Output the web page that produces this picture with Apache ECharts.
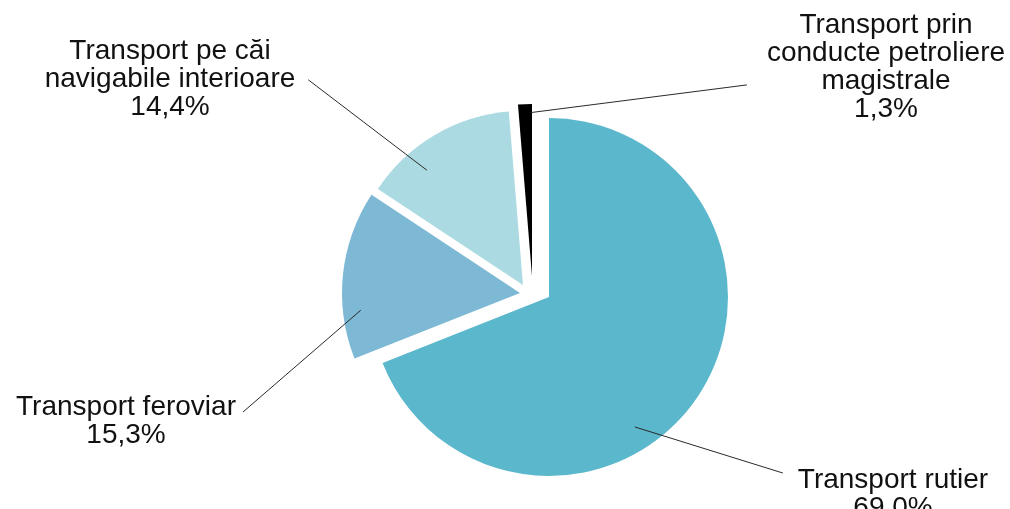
<!DOCTYPE html>
<html>
<head>
<meta charset="utf-8">
<script src="https://cdn.jsdelivr.net/npm/echarts@6/dist/echarts.min.js"></script>
<style>html,body{margin:0;padding:0;background:#fff}#c{width:1010px;height:509px}</style>
</head>
<body>
<div id="c"></div>
<script>
const categories = ['Transport rutier', 'Transport feroviar', 'Transport pe căi\nnavigabile interioare', 'Transport prin\nconducte petroliere\nmagistrale'];
const shares = [69.0, 15.3, 14.4, 1.3];
const colors = ['#5bb8cc', '#7db8d4', '#abdae3', '#000000'];

// layout only: per-slice pie apex (exploded look), radius and label anchor positions
const apex = [[549, 297], [520, 293], [523, 285], [532, 276]];
const radii = [179, 178, 174, 172];
const labelPos = [[893, 494], [126, 421], [170, 79], [886, 67]];
// leader line: start inside slice [fraction along slice angle, fraction of radius],
// end relative to label box [fraction of width, extra dx, fraction of height]
const leadStart = [[0.59, 0.87], [0.28, 0.90], [0.32, 0.86], [0.9, 0.95]];
const leadEnd = [[0, -15, 0.125], [1, 7, 0.34], [1, 13, 0.51], [0, -20, 0.66]];

const chart = echarts.init(document.getElementById('c'), null, {renderer: 'canvas'});
const fmt = v => v.toFixed(1).replace('.', ',') + '%';
const n = categories.length;

function layoutFor(k, seriesIdx) {
  return function (p) {
    if (p.dataIndex !== k) return {};
    const out = { x: labelPos[k][0], y: labelPos[k][1], align: 'center', verticalAlign: 'middle' };
    try {
      const lay = chart.getModel().getSeriesByIndex(seriesIdx).getData().getItemLayout(k);
      const a = lay.startAngle + leadStart[k][0] * (lay.endAngle - lay.startAngle);
      const rr = lay.r * leadStart[k][1];
      const p0 = [lay.cx + rr * Math.cos(a), lay.cy + rr * Math.sin(a)];
      const w = p.labelRect.width, h = p.labelRect.height;
      const rx = labelPos[k][0] - w / 2, ry = labelPos[k][1] - h / 2;
      const p1 = [rx + w * leadEnd[k][0] + leadEnd[k][1], ry + h * leadEnd[k][2]];
      out.labelLinePoints = [p0, p1];
    } catch (e) {}
    return out;
  };
}

function basePie(k) {
  return {
    type: 'pie',
    center: apex[k],
    radius: radii[k],
    startAngle: 90,
    clockwise: true,
    silent: true,
    animation: false,
    avoidLabelOverlap: false
  };
}

// slice series: one visible exploded slice each
const sliceSeries = categories.map((_, k) => Object.assign(basePie(k), {
  z: 2,
  label: { show: false },
  labelLine: { show: false },
  data: categories.map((name, i) => ({
    name: name,
    value: shares[i],
    itemStyle: { color: i === k ? colors[i] : 'rgba(0,0,0,0)' }
  }))
}));

// label series: same geometry, transparent sectors, drawn on top so leader lines show over slices
const labelSeries = categories.map((_, k) => Object.assign(basePie(k), {
  z: 5,
  label: {
    show: true,
    position: 'outside',
    color: '#111',
    fontFamily: 'Liberation Sans, Arial, sans-serif',
    fontSize: 28,
    lineHeight: 28,
    align: 'center',
    formatter: p => p.name + '\n' + fmt(p.value)
  },
  labelLine: { show: true, length2: 0, lineStyle: { color: '#2a2a2a', width: 1 } },
  labelLayout: layoutFor(k, n + k),
  data: categories.map((name, i) => ({
    name: name,
    value: shares[i],
    itemStyle: { color: 'rgba(0,0,0,0)' },
    label: { show: i === k },
    labelLine: { show: i === k }
  }))
}));

chart.setOption({ backgroundColor: '#fff', series: sliceSeries.concat(labelSeries) });
</script>
</body>
</html>
